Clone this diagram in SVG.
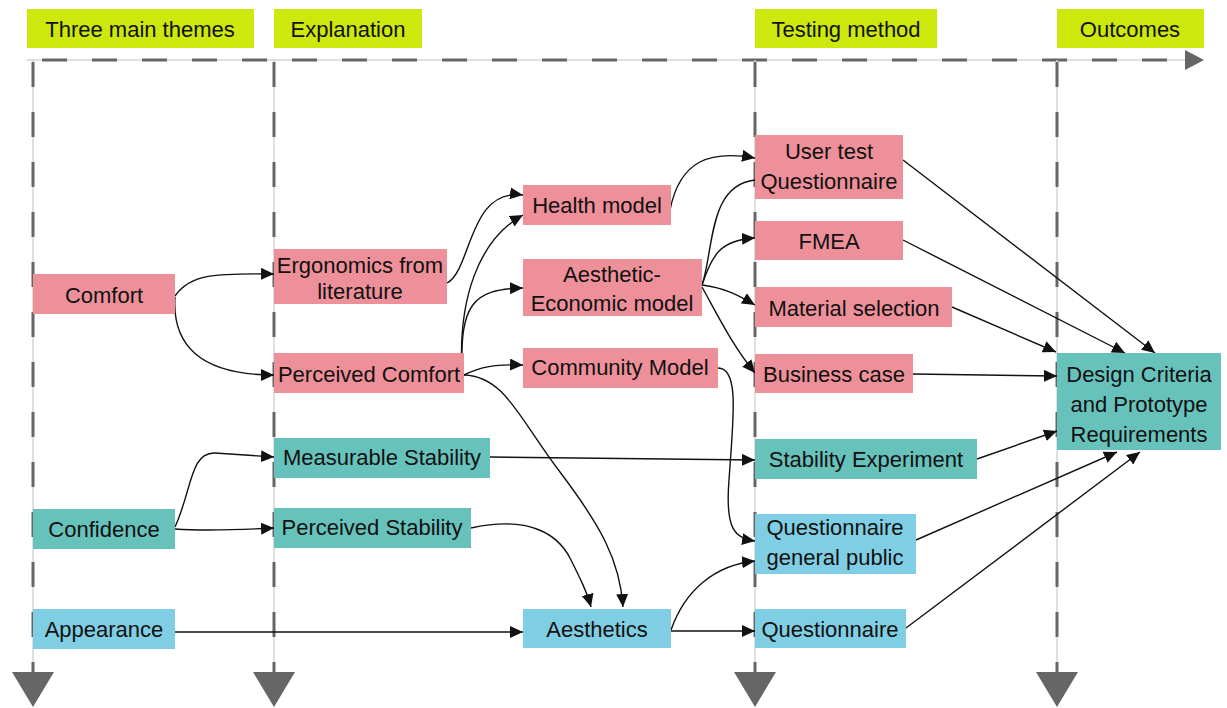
<svg xmlns="http://www.w3.org/2000/svg" width="1227" height="708" viewBox="0 0 1227 708">
  <style>
    .hdr { fill: #cde80c; }
    .pink { fill: #ee9099; }
    .teal { fill: #68c2bc; }
    .blue { fill: #80cee3; }
    text { font-family: "Liberation Sans", Arial, sans-serif; font-size: 22px; fill: #111; text-anchor: middle; }
    .guide { stroke: #d4d4d4; stroke-width: 1.5; fill: none; }
    .dash { stroke: #666; stroke-width: 3; stroke-dasharray: 25 25; fill: none; }
    .edge { stroke: #111; stroke-width: 1.4; fill: none; marker-end: url(#arrow); }
    .plain { stroke: #111; stroke-width: 1.4; fill: none; }
    .tri { fill: #666; }
  </style>
  <defs>
    <marker id="arrow" markerUnits="userSpaceOnUse" markerWidth="14" markerHeight="12" refX="13" refY="6" orient="auto">
      <path d="M0,0 L13,6 L0,12 Z" fill="#111"/>
    </marker>
  </defs>

  <rect width="1227" height="708" fill="#fff"/>

  <!-- column headers -->
  <g id="headers">
    <g id="h-themes"><rect class="hdr" x="27" y="9" width="227" height="39"/><text x="140" y="37">Three main themes</text></g>
    <g id="h-explanation"><rect class="hdr" x="274" y="9" width="148" height="39"/><text x="348" y="37">Explanation</text></g>
    <g id="h-testing"><rect class="hdr" x="755" y="9" width="182" height="39"/><text x="846" y="37">Testing method</text></g>
    <g id="h-outcomes"><rect class="hdr" x="1057" y="9" width="147" height="39"/><text x="1130" y="37">Outcomes</text></g>
  </g>

  <!-- timeline and column guides -->
  <g id="guides">
    <line class="guide" x1="27" y1="60" x2="1188" y2="60"/>
    <line class="dash" x1="27" y1="60" x2="1188" y2="60" stroke-dashoffset="-15"/>
    <path class="tri" d="M1185,50 L1204,60 L1185,70 Z"/>

    <line class="guide" x1="33" y1="60" x2="33" y2="672"/>
    <line class="dash" x1="33" y1="62" x2="33" y2="672"/>
    <path class="tri" d="M12,672 L54,672 L33,707 Z"/>

    <line class="guide" x1="274" y1="60" x2="274" y2="672"/>
    <line class="dash" x1="274" y1="62" x2="274" y2="672"/>
    <path class="tri" d="M253,672 L295,672 L274,707 Z"/>

    <line class="guide" x1="755" y1="60" x2="755" y2="672"/>
    <line class="dash" x1="755" y1="62" x2="755" y2="672"/>
    <path class="tri" d="M734,672 L776,672 L755,707 Z"/>

    <line class="guide" x1="1057" y1="60" x2="1057" y2="672"/>
    <line class="dash" x1="1057" y1="62" x2="1057" y2="672"/>
    <path class="tri" d="M1036,672 L1078,672 L1057,707 Z"/>
  </g>

  <!-- connectors -->
  <g id="connectors">
    <path class="edge" d="M175,296 C190,274 215,273 274,274"/>
    <path class="edge" d="M175,297 C172,345 200,375 274,375"/>
    <path class="edge" d="M447,283 C472,270 468,188 523,195"/>
    <path class="edge" d="M462,372 C458,300 478,240 523,215"/>
    <path class="edge" d="M462,372 C460,305 472,289 523,288"/>
    <path class="edge" d="M464,375 C480,367 495,364 523,365"/>
    <path class="edge" d="M464,375 C505,376 520,420 560,472 C600,525 620,560 623,607"/>
    <path class="edge" d="M471,528 C530,515 558,535 570,558 C580,578 587,592 591,607"/>
    <path class="edge" d="M175,527 C192,490 190,452 215,453 L274,457"/>
    <path class="edge" d="M175,529 C205,531 235,530 274,528"/>
    <path class="edge" d="M175,632 L523,632"/>
    <path class="edge" d="M490,457 L755,460"/>
    <path class="edge" d="M670,210 C680,160 710,150 755,158"/>
    <path class="plain" d="M702,285 C714,250 708,185 755,180"/>
    <path class="edge" d="M702,285 C712,255 720,240 755,238"/>
    <path class="edge" d="M702,285 C725,288 738,295 755,305"/>
    <path class="edge" d="M702,287 C716,312 732,345 755,373"/>
    <path class="edge" d="M718,368 C740,368 733,420 729,480 C725,530 735,538 755,541"/>
    <path class="edge" d="M671,630 C685,590 715,565 755,561"/>
    <path class="edge" d="M671,631 L755,631"/>
    <path class="edge" d="M903,160 L1155,353"/>
    <path class="edge" d="M903,240 L1125,353"/>
    <path class="edge" d="M952,307 L1056,352"/>
    <path class="edge" d="M913,374 L1057,376"/>
    <path class="edge" d="M977,459 L1057,431"/>
    <path class="edge" d="M916,540 L1117,452"/>
    <path class="edge" d="M906,628 L1140,452"/>
  </g>

  <!-- theme nodes -->
  <g id="n-comfort"><rect class="pink" x="33" y="274" width="142" height="40"/><text x="104" y="303">Comfort</text></g>
  <g id="n-confidence"><rect class="teal" x="33" y="509" width="142" height="40"/><text x="104" y="537">Confidence</text></g>
  <g id="n-appearance"><rect class="blue" x="33" y="609" width="142" height="40"/><text x="104" y="637">Appearance</text></g>

  <!-- explanation nodes -->
  <g id="n-ergonomics"><rect class="pink" x="274" y="249" width="173" height="55"/><text x="360" y="273">Ergonomics from</text><text x="360" y="299">literature</text></g>
  <g id="n-perceived-comfort"><rect class="pink" x="274" y="353" width="190" height="40"/><text x="369" y="382">Perceived Comfort</text></g>
  <g id="n-measurable-stability"><rect class="teal" x="274" y="438" width="216" height="40"/><text x="382" y="465">Measurable Stability</text></g>
  <g id="n-perceived-stability"><rect class="teal" x="274" y="508" width="197" height="40"/><text x="372" y="535">Perceived Stability</text></g>

  <g id="n-health"><rect class="pink" x="523" y="185" width="148" height="40"/><text x="597" y="213">Health model</text></g>
  <g id="n-aesthetic-economic"><rect class="pink" x="523" y="259" width="179" height="57"/><text x="612" y="282">Aesthetic-</text><text x="612" y="311">Economic model</text></g>
  <g id="n-community"><rect class="pink" x="523" y="348" width="195" height="40"/><text x="620" y="375">Community Model</text></g>
  <g id="n-aesthetics"><rect class="blue" x="523" y="609" width="148" height="39"/><text x="597" y="637">Aesthetics</text></g>

  <!-- testing method nodes -->
  <g id="n-user-test"><rect class="pink" x="755" y="135" width="148" height="64"/><text x="829" y="159">User test</text><text x="829" y="189">Questionnaire</text></g>
  <g id="n-fmea"><rect class="pink" x="755" y="221" width="148" height="39"/><text x="829" y="249">FMEA</text></g>
  <g id="n-material"><rect class="pink" x="755" y="287" width="197" height="40"/><text x="854" y="316">Material selection</text></g>
  <g id="n-business"><rect class="pink" x="755" y="354" width="158" height="39"/><text x="834" y="382">Business case</text></g>
  <g id="n-stability-exp"><rect class="teal" x="755" y="439" width="222" height="40"/><text x="866" y="467">Stability Experiment</text></g>
  <g id="n-q-public"><rect class="blue" x="755" y="514" width="161" height="60"/><text x="835" y="535">Questionnaire</text><text x="835" y="565">general public</text></g>
  <g id="n-questionnaire"><rect class="blue" x="755" y="609" width="151" height="39"/><text x="830" y="637">Questionnaire</text></g>

  <!-- outcome node -->
  <g id="n-design"><rect class="teal" x="1057" y="353" width="164" height="97"/><text x="1139" y="382">Design Criteria</text><text x="1139" y="412">and Prototype</text><text x="1139" y="442">Requirements</text></g>
</svg>
